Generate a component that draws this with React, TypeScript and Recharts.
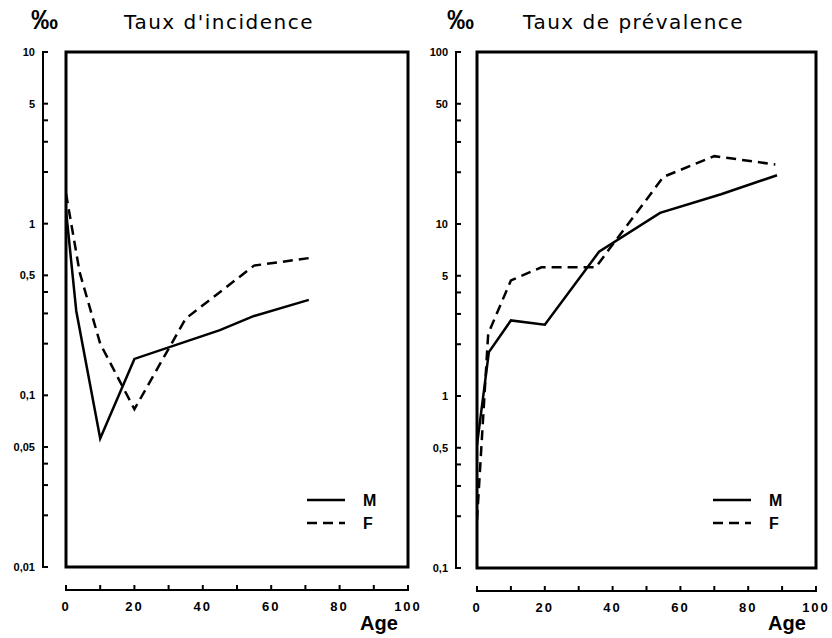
import { LineChart, Line, XAxis, YAxis, ReferenceArea, Legend } from 'recharts'

// ages (x) and rates in ‰ (y)
const incidenceAgeM = [0, 3, 10, 20, 45, 55, 71]
const incidenceM = [1.2, 0.31, 0.056, 0.163, 0.24, 0.29, 0.36]
const incidenceAgeF = [0, 4, 10, 20, 35, 55, 71]
const incidenceF = [1.5, 0.52, 0.2, 0.083, 0.28, 0.57, 0.63]

const prevalenceAgeM = [0, 3.5, 10, 20, 36, 54, 72, 88.5]
const prevalenceM = [0.52, 1.8, 2.75, 2.6, 6.9, 11.6, 14.9, 19.2]
const prevalenceAgeF = [0, 3.3, 10, 19, 35, 55, 70, 88]
const prevalenceF = [0.19, 2.3, 4.7, 5.6, 5.6, 18.8, 24.8, 22.2]

const xTicks = [0, 10, 20, 30, 40, 50, 60, 70, 80, 90, 100]
const xLabels: Record<number, string> = { 0: '0', 20: '20', 40: '40', 60: '60', 80: '80', 100: '100' }

const incidenceTicks = [0.01, 0.02, 0.03, 0.04, 0.05, 0.1, 0.2, 0.3, 0.4, 0.5, 1, 2, 3, 4, 5, 10]
const incidenceLabels: Record<number, string> = {
  0.01: '0,01', 0.05: '0,05', 0.1: '0,1', 0.5: '0,5', 1: '1', 5: '5', 10: '10',
}
const prevalenceTicks = [0.1, 0.2, 0.3, 0.4, 0.5, 1, 2, 3, 4, 5, 10, 20, 30, 40, 50, 100]
const prevalenceLabels: Record<number, string> = {
  0.1: '0,1', 0.5: '0,5', 1: '1', 5: '5', 10: '10', 50: '50', 100: '100',
}

const seriesNames = ['M', 'F']
const dashes: Record<string, string | undefined> = { M: undefined, F: '10 6' }

const toPoints = (ages: number[], values: number[]) =>
  ages.map((age, i) => ({ age, value: values[i] }))

const FONT = '"Liberation Sans", Arial, sans-serif'

// filled rects instead of stroked lines for the axis marks
const YTick = (props: any) => {
  const { x, y, payload, index, labels, gap, plotHeight } = props
  const ax = x - gap
  const label = labels[payload.value]
  return (
    <g>
      {index === 0 && <rect x={ax - 1} y={y - plotHeight - 1} width={2} height={plotHeight + 2} fill="#000" />}
      <rect x={ax} y={y - 1} width={5} height={2} fill="#000" />
      {label && (
        <text x={ax - 8} y={y} textAnchor="end" dominantBaseline="central"
          fontFamily={FONT} fontWeight="bold" fontSize={11} fill="#000">
          {label}
        </text>
      )}
    </g>
  )
}

const XTick = (props: any) => {
  const { x, y, payload, index, plotWidth } = props
  const ay = y + 23
  const label = xLabels[payload.value]
  return (
    <g>
      {index === 0 && <rect x={x - 1} y={ay - 1} width={plotWidth + 2} height={2} fill="#000" />}
      <rect x={x - 1} y={ay - 5} width={2} height={5} fill="#000" />
      {label && (
        <text x={x} y={ay + 16} textAnchor="middle" dominantBaseline="central"
          fontFamily={FONT} fontWeight="bold" fontSize={13} letterSpacing={2} fill="#000">
          {label}
        </text>
      )}
    </g>
  )
}

const LegendBox = (props: any) => {
  const items = [...(props.payload || [])].sort(
    (a: any, b: any) => seriesNames.indexOf(a.value) - seriesNames.indexOf(b.value),
  )
  return (
    <svg width={90} height={44} style={{ display: 'block' }}>
      {items.map((entry: any, i: number) => (
        <g key={entry.value}>
          <line x1={0} y1={12 + i * 23} x2={38} y2={12 + i * 23}
            stroke="#000" strokeWidth={2.5} strokeDasharray={dashes[entry.value]} />
          <text x={56} y={12 + i * 23} dominantBaseline="central"
            fontFamily={FONT} fontWeight="bold" fontSize={16} fill="#000">
            {entry.value}
          </text>
        </g>
      ))}
    </svg>
  )
}

interface PanelProps {
  left: number
  width: number
  title: string
  titleLeft: number
  permilleLeft: number
  yDomain: [number, number]
  yTicks: number[]
  yLabels: Record<number, string>
  yWidth: number
  marginRight: number
  xHeight: number
  axisGap: number
  series: { age: number; value: number }[][]
  legendLeft: number
}

const Panel = (p: PanelProps) => {
  const width = p.width
  const height = 638
  const top = 52
  const plotWidth = width - p.yWidth - p.marginRight
  const plotHeight = height - top - p.xHeight
  return (
    <div style={{ position: 'absolute', left: p.left, top: 0, width, height }}>
      <div style={{ position: 'absolute', left: p.permilleLeft, top: 4, fontFamily: FONT, fontWeight: 'bold', fontSize: 27, lineHeight: '32px' }}>
        ‰
      </div>
      <div style={{ position: 'absolute', left: p.titleLeft, top: 8, fontFamily: '"DejaVu Sans", sans-serif', fontSize: 20, letterSpacing: 1.5, lineHeight: '28px' }}>
        {p.title}
      </div>
      <div style={{ position: 'absolute', left: p.yWidth + plotWidth - 48, top: 611, fontFamily: FONT, fontWeight: 'bold', fontSize: 20, lineHeight: '24px' }}>
        Age
      </div>
      <LineChart width={width} height={height} margin={{ top, right: p.marginRight, bottom: 0, left: 0 }}>
        <XAxis type="number" dataKey="age" domain={[0, 100]} ticks={xTicks} interval={0}
          height={p.xHeight} axisLine={false} tickLine={false} tickSize={0} tickMargin={0}
          allowDataOverflow tick={<XTick plotWidth={plotWidth} />} />
        <YAxis type="number" scale="log" domain={p.yDomain} ticks={p.yTicks} interval={0}
          width={p.yWidth} axisLine={false} tickLine={false} tickSize={0} tickMargin={0}
          allowDataOverflow
          tick={<YTick labels={p.yLabels} gap={p.axisGap} plotHeight={plotHeight} />} />
        <ReferenceArea x1={0} x2={100} y1={p.yDomain[0]} y2={p.yDomain[1]}
          fill="none" fillOpacity={0} stroke="#000" strokeWidth={3} />
        {p.series.map((data, i) => (
          <Line key={seriesNames[i]} name={seriesNames[i]} data={data} dataKey="value"
            type="linear" stroke="#000" strokeWidth={2.5} strokeDasharray={dashes[seriesNames[i]]}
            dot={false} activeDot={false} isAnimationActive={false} />
        ))}
        <Legend layout="vertical" align="center" verticalAlign="middle" content={<LegendBox />}
          wrapperStyle={{ left: p.legendLeft, top: 488, width: 90, height: 44 }} />
      </LineChart>
    </div>
  )
}

export default function App() {
  return (
    <div style={{ position: 'absolute', left: 0, top: 0, width: 832, height: 638, background: '#fff', color: '#000' }}>
      <Panel left={0} width={430} title="Taux d'incidence" titleLeft={124} permilleLeft={31}
        yDomain={[0.01, 10]} yTicks={incidenceTicks} yLabels={incidenceLabels}
        yWidth={66} marginRight={22} xHeight={71} axisGap={23}
        series={[toPoints(incidenceAgeM, incidenceM), toPoints(incidenceAgeF, incidenceF)]}
        legendLeft={307} />
      <Panel left={416} width={416} title="Taux de prévalence" titleLeft={107} permilleLeft={31}
        yDomain={[0.1, 100]} yTicks={prevalenceTicks} yLabels={prevalenceLabels}
        yWidth={61} marginRight={16} xHeight={70} axisGap={21}
        series={[toPoints(prevalenceAgeM, prevalenceM), toPoints(prevalenceAgeF, prevalenceF)]}
        legendLeft={297} />
    </div>
  )
}
